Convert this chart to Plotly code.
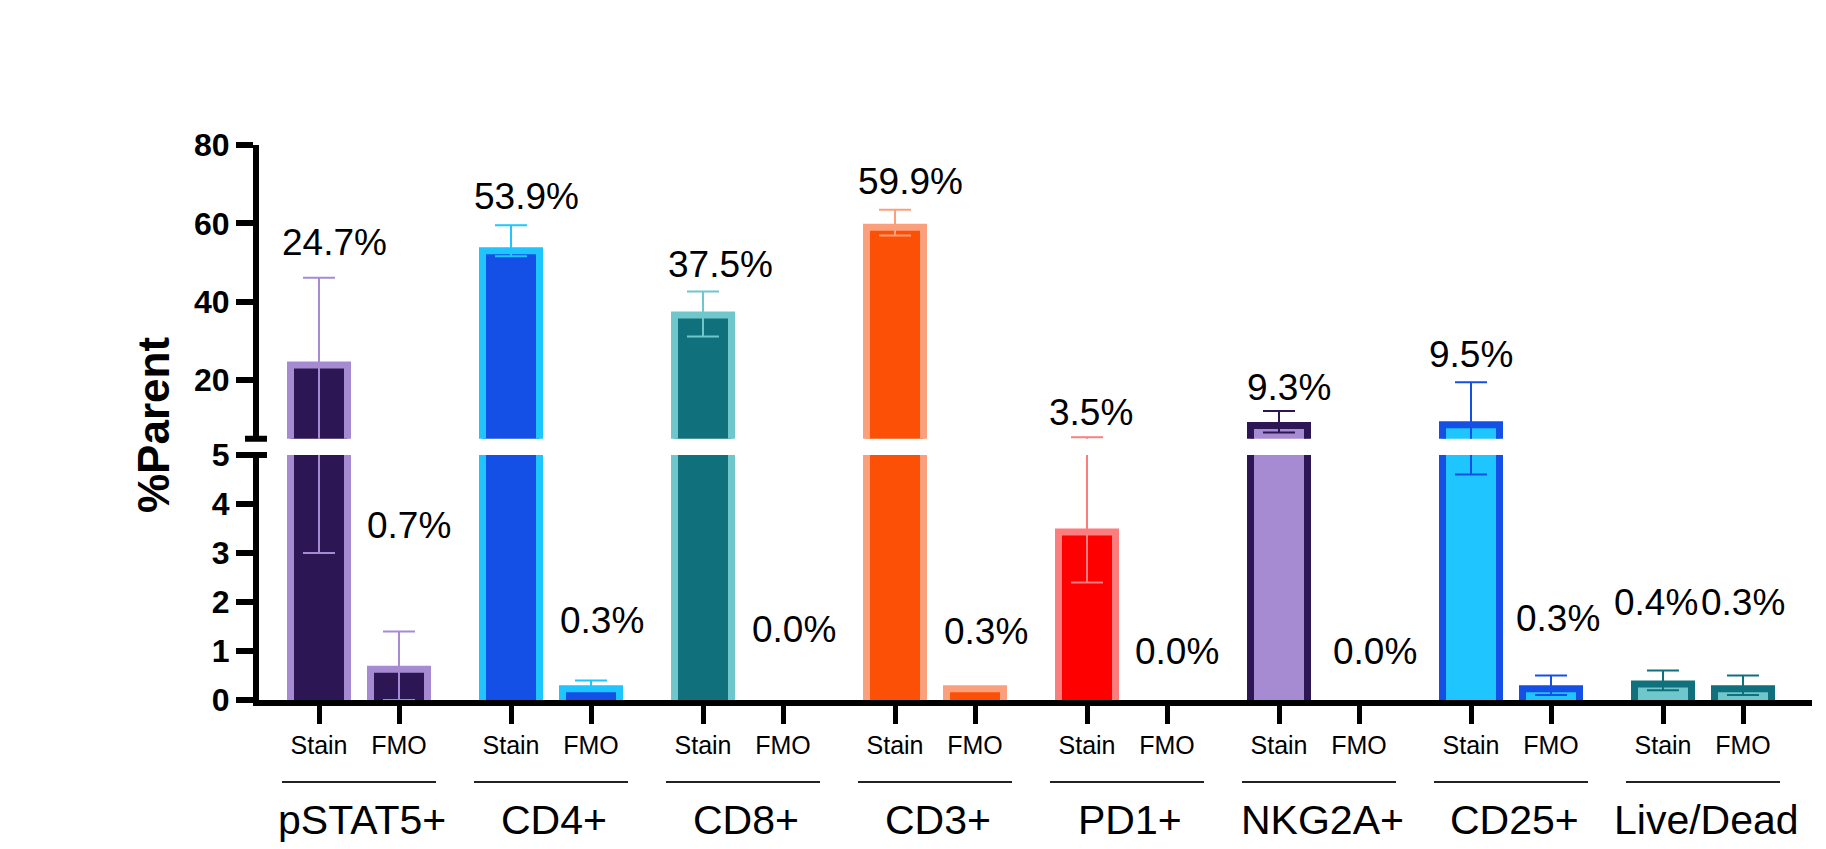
import plotly.graph_objects as go

# ---------------- data ----------------
groups = ["pSTAT5+", "CD4+", "CD8+", "CD3+", "PD1+", "NKG2A+", "CD25+", "Live/Dead"]
conditions = ["Stain", "FMO"]

stain_mean = [24.7, 53.9, 37.5, 59.9, 3.5, 9.3, 9.5, 0.4]
stain_err_plus = [21.4, 5.6, 5.1, 3.6, 1.9, 2.8, 9.9, 0.2]
stain_err_minus = [21.7, 2.3, 6.4, 3.0, 1.1, 2.7, 4.9, 0.2]

fmo_mean = [0.7, 0.3, 0.0, 0.3, 0.0, 0.0, 0.3, 0.3]
fmo_err_plus = [0.7, 0.1, None, None, None, None, 0.2, 0.2]
fmo_err_minus = [0.7, 0.1, None, None, None, None, 0.2, 0.2]

fill_colors = ["#2C1654", "#1450E6", "#10707B", "#FB5006",
               "#FE0000", "#A68BD3", "#1EC5FF", "#6FC7CC"]
border_colors = ["#A68BD3", "#1EC5FF", "#6FC7CC", "#FBA07C",
                 "#FB7D7D", "#2C1654", "#1450E6", "#10707B"]

# value-label placement (axis units)
stain_label_y = [55.0, 66.8, 49.4, 70.6, 11.8, 18.2, 26.4, 1.98]
stain_label_seg = ["upper"] * 7 + ["lower"]
fmo_label_y = [3.57, 1.63, 1.43, 1.39, 0.99, 0.99, 1.67, 1.98]
stain_label_dx = [15, 15, 17, 15, 4, 10, 0, -7]
fmo_label_dx = [10, 11, 11, 11, 10, 16, 7, 0]

upper_ticks = [20, 40, 60, 80]
lower_ticks = [0, 1, 2, 3, 4, 5]
upper_range = [5, 80]
lower_range = [0, 5]

# ---------------- layout geometry ----------------
# page coordinates (the html body adds an 8px offset)
OFF = 8
W, H = 1826, 849
PAGE_L, PAGE_R, PAGE_T, PAGE_B = 259, 1812, 145, 700
ML = PAGE_L - OFF
MT = PAGE_T - OFF
MR = W - (PAGE_R - OFF)
MB = H - (PAGE_B - OFF)
PW, PH = PAGE_R - PAGE_L, PAGE_B - PAGE_T
PX_PER_UNIT = 80.0
GROUP_STEP = 2.4
x_left = -60 / PX_PER_UNIT
x_range = [x_left, x_left + PW / PX_PER_UNIT]
LOWER_TOP_PX = 455
UPPER_BOT_PX = 438.75
lower_dom = [0, (PAGE_B - LOWER_TOP_PX) / PH]
upper_dom = [(PAGE_B - UPPER_BOT_PX) / PH, 1]
OUTLINE = 7
BAR_W = (64 - OUTLINE) / PX_PER_UNIT
FONT = "Liberation Sans, Arial, Helvetica, sans-serif"

seg_px_per_unit = {
    "lower": (PAGE_B - LOWER_TOP_PX) / (lower_range[1] - lower_range[0]),
    "upper": (UPPER_BOT_PX - PAGE_T) / (upper_range[1] - upper_range[0]),
}

stain_x = [GROUP_STEP * i for i in range(len(groups))]
fmo_x = [GROUP_STEP * i + 1 for i in range(len(groups))]


def err_list(vals, adj, sign):
    out = []
    for v in vals:
        if v is None:
            out.append("NaN")  # no error bar drawn
        else:
            out.append(max(0.0, v + sign * adj))
    return out


fig = go.Figure()
for seg, xa, ya in (("lower", "x", "y"), ("upper", "x2", "y2")):
    k = seg_px_per_unit[seg]
    inset = (OUTLINE / 2) / k           # keep outline inside the value
    base = -(OUTLINE / 2) / seg_px_per_unit["lower"]  # hide bottom outline
    for i, g in enumerate(groups):
        vals = [stain_mean[i], fmo_mean[i]]
        fig.add_trace(go.Bar(
            x=[stain_x[i], fmo_x[i]],
            y=[max(0.0, v - inset - base) for v in vals],
            base=base,
            width=BAR_W,
            marker=dict(color=fill_colors[i],
                        line=dict(color=border_colors[i],
                                  width=[OUTLINE if v > 0 else 0 for v in vals])),
            error_y=dict(type="data", symmetric=False,
                         array=err_list([stain_err_plus[i], fmo_err_plus[i]], inset, 1),
                         arrayminus=err_list([stain_err_minus[i], fmo_err_minus[i]], inset, -1),
                         color=border_colors[i], thickness=2, width=16),
            xaxis=xa, yaxis=ya, showlegend=False, name=g,
            hoverinfo="skip",
        ))

tickvals = []
ticktext = []
for i in range(len(groups)):
    tickvals += [stain_x[i], fmo_x[i]]
    ticktext += conditions

axis_common = dict(showgrid=False, zeroline=False, showline=True,
                   linecolor="black", linewidth=6, ticks="outside",
                   tickcolor="black")

fig.update_layout(
    width=W, height=H,
    margin=dict(l=ML, r=MR, t=MT, b=MB, autoexpand=False),
    plot_bgcolor="white", paper_bgcolor="white",
    barmode="overlay",
    font=dict(family=FONT, color="black"),
    xaxis=dict(domain=[0, 1], range=x_range, anchor="y",
               tickmode="array", tickvals=tickvals, ticktext=ticktext,
               tickfont=dict(size=25, family=FONT), ticklen=18, tickwidth=5,
               ticklabelstandoff=0, **axis_common),
    xaxis2=dict(domain=[0, 1], range=x_range, anchor="y2", matches="x",
                visible=False),
    yaxis=dict(domain=lower_dom, range=lower_range, anchor="x",
               tickmode="array", tickvals=lower_ticks,
               tickfont=dict(size=32, family=FONT, weight="bold"),
               ticklen=17, tickwidth=6, **axis_common),
    yaxis2=dict(domain=upper_dom, range=upper_range, anchor="x2",
                tickmode="array", tickvals=upper_ticks,
                tickfont=dict(size=32, family=FONT, weight="bold"),
                ticklen=17, tickwidth=6, **axis_common),
)

annotations = []
for i in range(len(groups)):
    annotations.append(dict(
        x=stain_x[i], y=stain_label_y[i], xref="x",
        yref="y2" if stain_label_seg[i] == "upper" else "y",
        text=f"{stain_mean[i]:.1f}%", showarrow=False, xshift=stain_label_dx[i],
        xanchor="center", yanchor="middle",
        font=dict(size=37, family=FONT, color="black")))
    annotations.append(dict(
        x=fmo_x[i], y=fmo_label_y[i], xref="x", yref="y",
        text=f"{fmo_mean[i]:.1f}%", showarrow=False, xshift=fmo_label_dx[i],
        xanchor="center", yanchor="middle",
        font=dict(size=37, family=FONT, color="black")))
    gc = (stain_x[i] + fmo_x[i]) / 2
    annotations.append(dict(
        x=gc, y=(PAGE_B - 820) / PH, xref="x", yref="paper",
        text=groups[i], showarrow=False, xanchor="center", yanchor="middle",
        xshift=3,
        font=dict(size=41, family=FONT, color="black")))

annotations.append(dict(
    x=(153 - PAGE_L) / PW, y=(PAGE_B - 425) / PH, xref="paper", yref="paper",
    text="<b>%Parent</b>", textangle=-90, showarrow=False,
    xanchor="center", yanchor="middle",
    font=dict(size=44, family=FONT, color="black")))
fig.update_layout(annotations=annotations)

shapes = []
half = 77 / PX_PER_UNIT
for i in range(len(groups)):
    gc = (stain_x[i] + fmo_x[i]) / 2
    shapes.append(dict(type="line", xref="x", yref="paper",
                       x0=gc - half, x1=gc + half,
                       y0=(PAGE_B - 782) / PH, y1=(PAGE_B - 782) / PH,
                       line=dict(color="#222222", width=2)))
# break caps on the y axis
cap = 11 / PW
shapes.append(dict(type="line", xref="paper", yref="y2 domain",
                   x0=-3 / PW - cap, x1=-3 / PW + cap, y0=0, y1=0,
                   line=dict(color="black", width=6)))
shapes.append(dict(type="line", xref="paper", yref="y domain",
                   x0=-3 / PW - cap, x1=-3 / PW + cap, y0=1, y1=1,
                   line=dict(color="black", width=6)))
fig.update_layout(shapes=shapes)

fig.write_html("out.html")
